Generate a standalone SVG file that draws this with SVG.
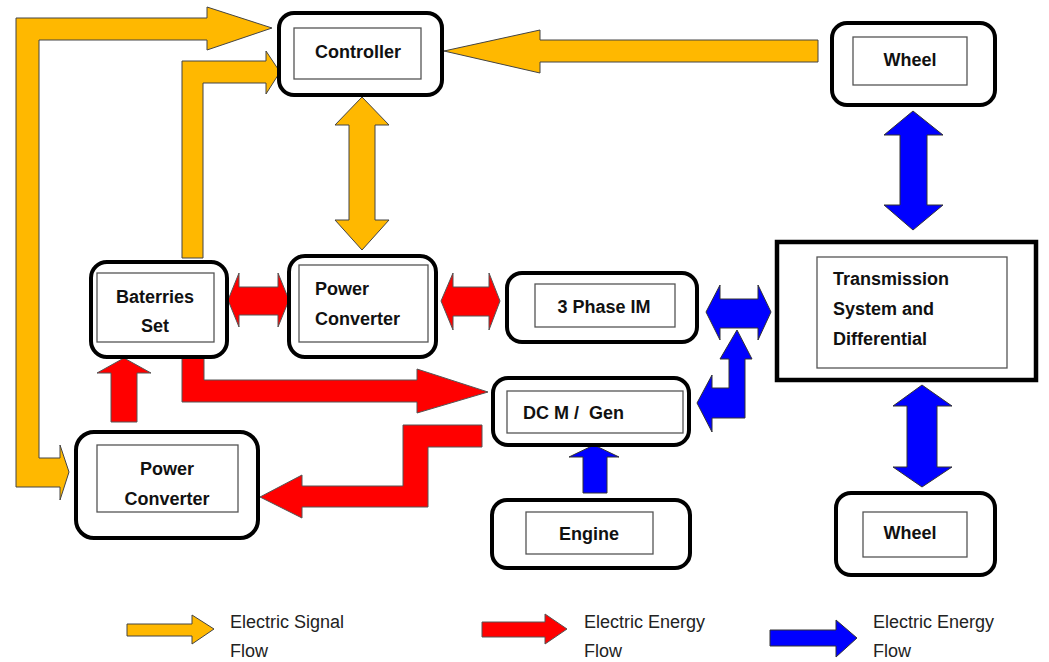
<svg xmlns="http://www.w3.org/2000/svg" width="1049" height="662" viewBox="0 0 1049 662">
<style>
.ob{fill:#fff;stroke:#000;stroke-width:4}
.ib{fill:#fff;stroke:#555;stroke-width:1.3}
.t{font-family:"Liberation Sans",Arial,sans-serif;font-weight:bold;font-size:18px;fill:#111}
.l{font-family:"Liberation Sans",Arial,sans-serif;font-size:18px;fill:#222}
.y{fill:#FFB800;stroke:#444;stroke-width:1}
.r{fill:#FF0000;stroke:#555;stroke-width:1}
.b{fill:#0000FF;stroke:#333;stroke-width:1}
</style>
<rect width="1049" height="662" fill="#fff"/>
<g id="connectors">
  <!-- yellow signal arrows -->
  <polygon class="y" points="16,487 16,18 207,18 207,7 272,28 207,50 207,40 39,40 39,458 60,458 60,445 69,472 60,500 60,487"/>
  <polygon class="y" points="182,258 182,61 266,61 266,51 280,72 266,94 266,83 203,83 203,258"/>
  <polygon class="y" points="818,40 540,40 540,30 444,51 540,73 540,62 818,62"/>
  <polygon class="y" points="362,97 389,125 375,125 375,220 389,220 362,250 335,220 349,220 349,125 335,125"/>
  <!-- red energy arrows -->
  <polygon class="r" points="228,300 239,273 239,287 278,287 278,273 289,300 278,327 278,315 239,315 239,327"/>
  <polygon class="r" points="441,301 453,273 453,287 489,287 489,273 500,301 489,330 489,316 453,316 453,330"/>
  <polygon class="r" points="182,357 204,357 204,380 417,380 417,369 488,392 417,413 417,402 182,402"/>
  <polygon class="r" points="124,358 151,373 137,373 137,422 111,422 111,373 97,373"/>
  <polygon class="r" points="482,425 403,425 403,486 302,486 302,475 260,497 302,518 302,507 428,507 428,447 482,447"/>
  <!-- blue energy arrows -->
  <polygon class="b" points="706,312 720,285 720,299 758,299 758,285 771,312 758,340 758,328 720,328 720,340"/>
  <polygon class="b" points="737,330 752,359 745,359 745,418 712,418 712,432 697,403 712,375 712,388 729,388 729,359 720,359"/>
  <polygon class="b" points="594,445 619,457 607,457 607,493 583,493 583,457 569,457"/>
  <polygon class="b" points="913,111 943,135 927,135 927,205 943,205 913,230 884,205 900,205 900,135 884,135"/>
  <polygon class="b" points="922,385 952,406 937,406 937,467 952,467 922,487 893,467 907,467 907,406 893,406"/>
</g>
<g id="controller">
  <rect class="ob" x="279" y="13" width="163" height="82" rx="15"/>
  <rect class="ib" x="294" y="28" width="127" height="51"/>
  <text class="t" x="358" y="58" text-anchor="middle">Controller</text>
</g>
<g id="wheel-top">
  <rect class="ob" x="832" y="23" width="163" height="82" rx="15"/>
  <rect class="ib" x="853" y="37" width="114" height="48"/>
  <text class="t" x="910" y="66" text-anchor="middle">Wheel</text>
</g>
<g id="batteries">
  <rect class="ob" x="91" y="262" width="136" height="95" rx="16"/>
  <rect class="ib" x="97" y="273" width="117" height="69"/>
  <text class="t" x="155" y="303" text-anchor="middle">Baterries</text>
  <text class="t" x="155" y="332" text-anchor="middle">Set</text>
</g>
<g id="power-converter-mid">
  <rect class="ob" x="289" y="256" width="147" height="101" rx="16"/>
  <rect class="ib" x="299" y="265" width="129" height="77"/>
  <text class="t" x="315" y="295">Power</text>
  <text class="t" x="315" y="325">Converter</text>
</g>
<g id="three-phase-im">
  <rect class="ob" x="507" y="273" width="190" height="69" rx="15"/>
  <rect class="ib" x="535" y="284" width="140" height="43"/>
  <text class="t" x="604" y="313" text-anchor="middle">3 Phase IM</text>
</g>
<g id="dcm-gen">
  <rect class="ob" x="493" y="378" width="196" height="67" rx="15"/>
  <rect class="ib" x="507" y="391" width="176" height="42"/>
  <text class="t" x="523" y="419" style="white-space:pre">DC M /  Gen</text>
</g>
<g id="transmission">
  <rect x="777" y="242" width="259" height="138" fill="#fff" stroke="#000" stroke-width="4.5"/>
  <rect class="ib" x="817" y="257" width="190" height="111"/>
  <text class="t" x="833" y="285">Transmission</text>
  <text class="t" x="833" y="315">System and</text>
  <text class="t" x="833" y="345">Differential</text>
</g>
<g id="power-converter-bottom">
  <rect class="ob" x="76" y="432" width="182" height="106" rx="18"/>
  <rect class="ib" x="97" y="445" width="141" height="67"/>
  <text class="t" x="167" y="475" text-anchor="middle">Power</text>
  <text class="t" x="167" y="505" text-anchor="middle">Converter</text>
</g>
<g id="engine">
  <rect class="ob" x="492" y="500" width="198" height="68" rx="15"/>
  <rect class="ib" x="526" y="512" width="127" height="42"/>
  <text class="t" x="589" y="540" text-anchor="middle">Engine</text>
</g>
<g id="wheel-bottom">
  <rect class="ob" x="836" y="493" width="159" height="82" rx="15"/>
  <rect class="ib" x="863" y="512" width="104" height="45"/>
  <text class="t" x="910" y="539" text-anchor="middle">Wheel</text>
</g>
<g id="legend">
  <polygon class="y" points="127,624 192,624 192,615 214,629 192,644 192,636 127,636"/>
  <text class="l" x="230" y="628">Electric Signal</text>
  <text class="l" x="230" y="657">Flow</text>
  <polygon class="r" points="482,622 545,622 545,614 567,629 545,644 545,637 482,637"/>
  <text class="l" x="584" y="628">Electric Energy</text>
  <text class="l" x="584" y="657">Flow</text>
  <polygon class="b" points="770,630 836,630 836,620 857,638 836,657 836,646 770,646"/>
  <text class="l" x="873" y="628">Electric Energy</text>
  <text class="l" x="873" y="657">Flow</text>
</g>
</svg>
